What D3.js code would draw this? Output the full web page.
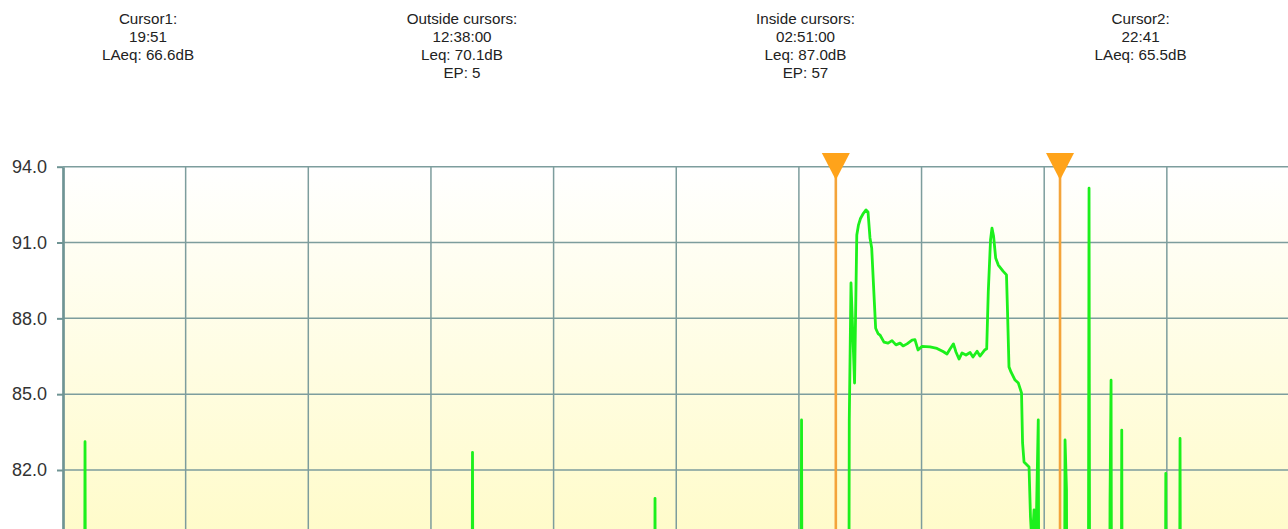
<!DOCTYPE html>
<html><head><meta charset="utf-8">
<script src="https://cdn.jsdelivr.net/npm/d3@7"></script>
<style>html,body{margin:0;padding:0;background:#fff;overflow:hidden}</style>
</head><body>
<svg id="chart" width="1288" height="529"></svg>
<script>
// ---------- data ----------
const startClock = "10:05";
const headerTitles = ["Cursor1:", "Outside cursors:", "Inside cursors:", "Cursor2:"];
const headerLines = [
  ["19:51", "LAeq: 66.6dB"],
  ["12:38:00", "Leq: 70.1dB", "EP: 5"],
  ["02:51:00", "Leq: 87.0dB", "EP: 57"],
  ["22:41", "LAeq: 65.5dB"]
];
const cursorTimes = ["19:51", "22:41"];
const yTicks = [94, 91, 88, 85, 82];
const yDomain = [64, 94];
const xDomainMinutes = [0, 930];
const gridStepMinutes = 93;
// minutes after start
const timeMinutes = [
  0, 15.9, 16.7, 17.5, 309.7, 310.5, 311.3, 448.1, 448.9, 449.7, 559.2, 560.0, 560.8,
  595.5, 596.2, 597.5, 600.2, 601.9, 603.2, 604.7, 606.6, 608.9, 610.4, 611.9, 613.2, 615.2, 616.2,
  618.0, 619.5, 622.5, 625.6, 628.6, 631.6, 634.7, 637.0, 640.0, 643.8, 646.0, 648.3, 651.4, 657.4,
  662.7, 667.3, 670.3, 672.6, 675.2, 677.1, 679.4, 681.7, 684.7, 687.8, 690.0, 693.1, 695.3, 699.1,
  700.4, 701.6, 703.3, 704.4, 705.6, 707.2, 709.2, 712.8, 715.4, 716.2, 717.3, 718.8, 721.9, 724.4,
  726.8, 727.6, 728.7, 732.5, 733.6, 734.8, 736.3, 737.8, 739.5, 740.5,
  758.9, 759.8, 760.9, 761.7, 777.2, 778.0, 778.7, 793.2, 793.9, 794.7, 795.4,
  802.0, 802.8, 803.5, 835.4, 836.2, 836.9, 846.2, 847.0, 847.8, 930
];
const levels = [
  66, 66, 83.12, 66, 66, 82.7, 66, 66, 80.88, 66, 66, 83.98, 66,
  66, 83.98, 89.4, 85.44, 91.3, 91.7, 91.95, 92.13, 92.29, 92.21, 91.18, 90.78, 88.65, 87.61,
  87.4, 87.34, 87.06, 87.02, 87.12, 86.95, 87.02, 86.91, 86.99, 87.14, 87.16, 86.75, 86.89, 86.87,
  86.81, 86.69, 86.59, 86.79, 86.99, 86.67, 86.39, 86.63, 86.55, 86.65, 86.47, 86.7, 86.51, 86.76,
  86.8, 89.05, 91.1, 91.57, 91.26, 90.39, 90.11, 89.87, 89.72, 88.25, 86.08, 85.88, 85.56, 85.44,
  85.05, 83.07, 82.32, 82.12, 80.14, 79.0, 80.42, 79.3, 83.98, 66,
  66, 83.19, 81.21, 66, 66, 93.15, 66, 66, 80.69, 85.55, 66,
  66, 83.58, 66, 66, 81.87, 66, 66, 83.25, 66, 66
];

// ---------- layout ----------
const svg = d3.select("#chart");
const plotL = 63, plotR = 1289.5, plotT = 166.7, pxPerDb = 25.275;
const x = d3.scaleLinear().domain(xDomainMinutes).range([plotL, plotR]);
const y = d3.scaleLinear().domain(yDomain).range([plotT + (yDomain[1] - yDomain[0]) * pxPerDb, plotT]);
const plotB = y(yDomain[0]);
const toMin = s => { const [h, m] = s.split(":").map(Number); return h * 60 + m; };
const startMin = toMin(startClock);

const defs = svg.append("defs");
const grad = defs.append("linearGradient").attr("id", "bg")
  .attr("gradientUnits", "userSpaceOnUse").attr("x1", 0).attr("y1", plotT).attr("x2", 0).attr("y2", 560);
grad.append("stop").attr("offset", 0).attr("stop-color", "#ffffff");
grad.append("stop").attr("offset", 1).attr("stop-color", "#fffbc6");
defs.append("clipPath").attr("id", "clip").append("rect")
  .attr("x", plotL).attr("y", plotT - 2).attr("width", plotR - plotL).attr("height", plotB - plotT + 2);

svg.append("rect").attr("x", plotL).attr("y", plotT).attr("width", plotR - plotL)
  .attr("height", plotB - plotT).attr("fill", "url(#bg)");

// header
const centers = [148, 462, 805.5, 1140.6];
headerTitles.forEach((t, i) => {
  const lines = [t].concat(headerLines[i]);
  const g = svg.append("text").attr("text-anchor", "middle")
    .attr("font-family", "'Liberation Sans', Arial, sans-serif").attr("font-size", 15.2)
    .attr("fill", "#222");
  lines.forEach((l, j) => g.append("tspan").attr("x", centers[i]).attr("y", 24 + j * 18).text(l));
});

const gridColor = "#7d9d9d";
// vertical gridlines
svg.append("g").selectAll("line").data(d3.range(xDomainMinutes[0] + gridStepMinutes, xDomainMinutes[1] + 1, gridStepMinutes))
  .join("line").attr("x1", d => x(d)).attr("x2", d => x(d)).attr("y1", plotT).attr("y2", plotB)
  .attr("stroke", gridColor).attr("stroke-width", 1.5);
// horizontal gridlines
svg.append("g").selectAll("line").data(yTicks).join("line")
  .attr("x1", plotL).attr("x2", plotR).attr("y1", d => y(d)).attr("y2", d => y(d))
  .attr("stroke", gridColor).attr("stroke-width", 1.5);

// y axis
const axis = svg.append("g").attr("transform", `translate(${plotL},0)`)
  .call(d3.axisLeft(y).tickValues(yTicks).tickFormat(d3.format(".1f")).tickSize(6).tickSizeOuter(0).tickPadding(10));
axis.select(".domain").attr("stroke", "#6f9494").attr("stroke-width", 2.7);
axis.selectAll(".tick line").attr("stroke", "#6f9494").attr("stroke-width", 2);
axis.selectAll(".tick text").attr("font-family", "'Liberation Sans', Arial, sans-serif")
  .attr("font-size", 18).attr("fill", "#333");

// level line
const pts = timeMinutes.map((t, i) => [t, levels[i]]);
svg.append("path").datum(pts).attr("clip-path", "url(#clip)")
  .attr("d", d3.line().x(d => x(d[0])).y(d => y(d[1])))
  .attr("fill", "none").attr("stroke", "#1cf01c").attr("stroke-width", 2.8)
  .attr("stroke-linejoin", "round");

// cursors
cursorTimes.forEach(c => {
  let m = toMin(c) - startMin; if (m < 0) m += 1440;
  const cx = x(m);
  svg.append("line").attr("x1", cx).attr("x2", cx).attr("y1", 160).attr("y2", plotB)
    .attr("stroke", "#f4a43a").attr("stroke-width", 2.6);
  svg.append("path").attr("d", `M${cx - 14},153L${cx + 14},153L${cx},180Z`).attr("fill", "#ffa31a");
});
</script>
</body></html>
